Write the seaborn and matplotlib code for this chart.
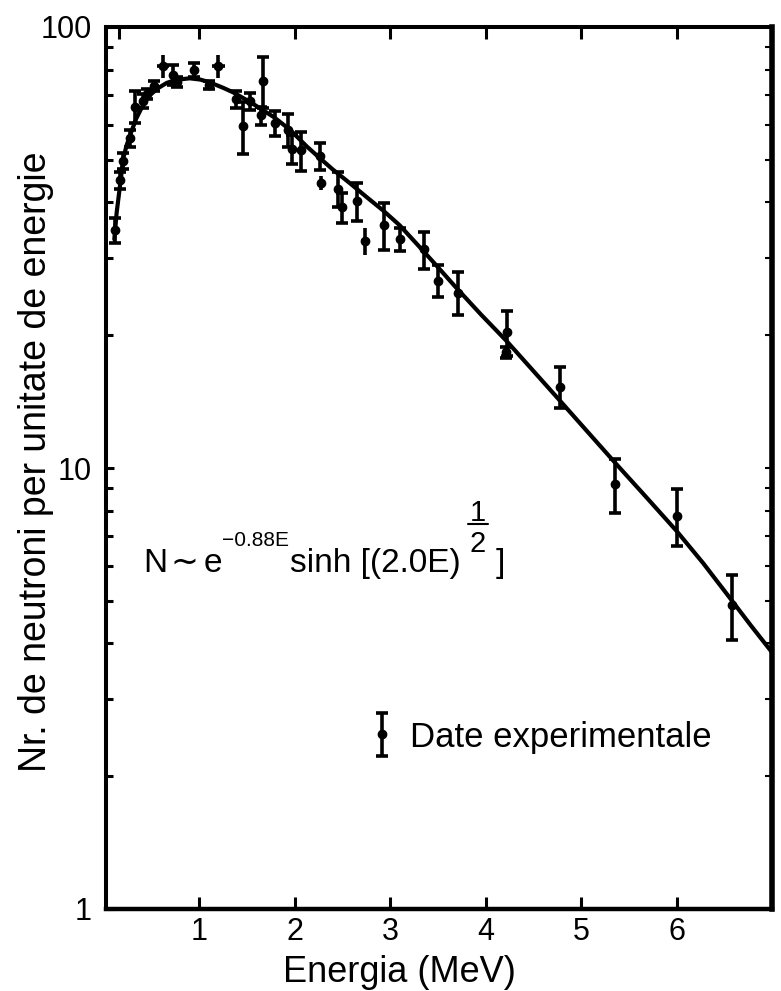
import matplotlib
matplotlib.use("Agg")
import matplotlib.pyplot as plt
import seaborn as sns
import numpy as np
import pandas as pd
from matplotlib.ticker import LogLocator, NullFormatter, FixedLocator
from matplotlib.container import ErrorbarContainer
from matplotlib.legend_handler import HandlerErrorbar
from matplotlib.lines import Line2D

# ---- data ----
curve_E = [0.11, 0.135, 0.18, 0.20, 0.24, 0.29, 0.34, 0.41, 0.48, 0.57, 0.66, 0.76,
           0.90, 1.01, 1.11, 1.25, 1.36, 1.46, 1.57, 1.78, 1.95, 2.13, 2.26, 2.40,
           2.58, 2.75, 2.93, 3.10, 3.28, 3.49, 3.68, 3.95, 4.22, 4.50, 4.78, 5.08,
           5.37, 5.68, 6.00, 6.28, 6.56, 6.78, 7.00]
curve_N = [33.0, 38.0, 45.5, 50.0, 54.0, 58.0, 62.0, 66.5, 70.0, 72.7, 74.7, 75.9,
           76.5, 76.0, 74.9, 72.8, 71.0, 69.0, 66.8, 62.5, 58.5, 53.5, 50.5, 47.5,
           44.2, 41.2, 38.3, 35.5, 32.2, 28.7, 25.8, 22.3, 19.4, 16.6, 14.2, 12.0,
           10.2, 8.6, 7.2, 6.08, 5.07, 4.39, 3.82]

pt_E = [0.12, 0.17, 0.20, 0.27, 0.33, 0.41, 0.45, 0.53, 0.73, 0.77, 0.94, 1.10,
        1.39, 1.46, 1.53, 1.67, 1.65, 1.79, 1.93, 1.97, 2.07, 2.26, 2.45, 2.50,
        2.65, 2.94, 3.10, 3.35, 3.50, 3.71, 4.22, 4.21, 4.78, 5.36, 6.00, 6.58]
pt_N = [34.6, 45.0, 49.7, 56.0, 66.0, 68.0, 70.5, 73.5, 78.0, 75.0, 80.0, 74.0,
        68.5, 59.6, 68.0, 75.5, 63.0, 60.5, 58.5, 53.0, 52.5, 51.0, 43.0, 39.0,
        40.3, 35.5, 33.0, 31.3, 26.6, 25.0, 20.3, 18.3, 15.3, 9.2, 7.8, 4.9]
pt_err = [2.3, 2.0, 2.0, 2.5, 5.5, 2.5, 2.0, 2.0, 4.0, 2.0, 3.0, 1.5,
          3.0, 8.0, 3.0, 10.0, 3.0, 4.0, 5.0, 4.0, 5.3, 3.5, 4.0, 3.0,
          3.9, 4.3, 2.0, 3.0, 2.2, 2.8, 2.4, 0.5, 1.65, 1.3, 1.15, 0.83]

cross_E = [0.62, 1.20, 2.28, 2.74]
cross_N = [81.5, 81.5, 44.3, 32.7]
cross_yerr = [5.0, 5.0, 1.7, 2.3]
cross_xerr = [0.06, 0.07, 0.04, 0.05]

x_ticks = [1, 2, 3, 4, 5, 6]
top_ticks = [0.16, 1, 2, 3, 4, 5, 6]
y_ticks = [1, 10, 100]
y_ticklabels = ["1", "10", "100"]

W, H = 781, 991

sns.set_theme(style="white")
plt.rcParams['font.family'] = ['Liberation Sans', 'DejaVu Sans']
for k in ['text.color', 'axes.labelcolor', 'xtick.color', 'ytick.color', 'axes.edgecolor']:
    plt.rcParams[k] = 'black'

fig = plt.figure(figsize=(W / 100, H / 100), dpi=100)
ax = fig.add_axes([106 / W, 1 - 909 / H, (772 - 106) / W, (909 - 27) / H])
ax.set_yscale('log')

curve_df = pd.DataFrame({"E": curve_E, "N": curve_N})
sns.lineplot(data=curve_df, x="E", y="N", ax=ax, color="black", linewidth=3,
             sort=False, estimator=None)

eb = ax.errorbar(pt_E, pt_N, yerr=pt_err, fmt='o', color='black', ms=6,
                 elinewidth=2.6, capsize=4, capthick=2.6, label='Date experimentale')
ax.errorbar(cross_E, cross_N, xerr=cross_xerr, yerr=cross_yerr, fmt='o', color='black',
            ms=6, elinewidth=2.6, capsize=0)

ax.set_xlim(0.023, 7.0)
ax.set_ylim(1, 100)

ax.set_xticks(x_ticks)
ax.set_xticklabels([str(t) for t in x_ticks])
ax.set_yticks(y_ticks)
ax.set_yticklabels(y_ticklabels)
ax.yaxis.set_minor_locator(LogLocator(base=10, subs=np.arange(2, 10)))
ax.yaxis.set_minor_formatter(NullFormatter())
ax.xaxis.set_minor_locator(FixedLocator([]))

ax.tick_params(axis='x', which='major', direction='in', length=8.6, width=2.2,
               labelsize=22, pad=6, colors='black', bottom=True)
ax.tick_params(axis='y', which='major', direction='in', length=6, width=2.2,
               labelsize=22, pad=10, colors='black', left=True)
ax.tick_params(axis='y', which='minor', direction='in', length=5, width=2.2, left=True)

for side, lw in [('left', 2.9), ('top', 2.9), ('bottom', 3.2), ('right', 4.0)]:
    ax.spines[side].set_visible(True)
    ax.spines[side].set_color('black')
    ax.spines[side].set_linewidth(lw)

# top ticks
axt = ax.twiny()
axt.set_xlim(ax.get_xlim())
axt.set_xticks(top_ticks)
axt.tick_params(axis='x', direction='in', length=8.6, width=2.2, labeltop=False, top=True)
for s in axt.spines.values():
    s.set_visible(False)
# right ticks
axr = ax.twinx()
axr.set_yscale('log')
axr.set_ylim(1, 100)
axr.yaxis.set_minor_locator(LogLocator(base=10, subs=np.arange(2, 10)))
axr.yaxis.set_minor_formatter(NullFormatter())
axr.tick_params(axis='y', which='both', direction='in', length=5, width=1.5,
                labelright=False, right=True)
for s in axr.spines.values():
    s.set_visible(False)
axt.grid(False); axr.grid(False); ax.grid(False)

ax.set_xlabel("Energia (MeV)", fontsize=26, color='black')
ax.set_ylabel("Nr. de neutroni per unitate de energie", fontsize=27, color='black')
ax.xaxis.set_label_coords(0.441, -0.052)
ax.yaxis.set_label_coords(-0.078, 0.507)

leg = ax.legend(handles=[eb], labels=['Date experimentale'], loc='center left',
                bbox_to_anchor=(0.404, 0.195), frameon=False, fontsize=25,
                handlelength=0.4, handletextpad=0.6, borderpad=0, borderaxespad=0,
                handler_map={ErrorbarContainer: HandlerErrorbar(yerr_size=0.62)})
for t in leg.get_texts():
    t.set_color('black')


def fp(x, y):
    return x / W, 1 - y / H


fig.text(*fp(143, 572), "N", fontsize=24, va='baseline', ha='left')
fig.text(*fp(170, 572), "\u223c", fontsize=24, va='baseline', ha='left',
         family=['DejaVu Sans'])
fig.text(*fp(204, 572), "e", fontsize=24, va='baseline', ha='left')
fig.text(*fp(222, 546), "\u22120.88E", fontsize=15, va='baseline', ha='left',
         family=['Liberation Sans', 'DejaVu Sans'])
fig.text(*fp(290, 572), "sinh [(2.0E)", fontsize=24, va='baseline', ha='left')
fig.text(*fp(478, 521), "1", fontsize=21, va='baseline', ha='center')
fig.add_artist(Line2D([468 / W, 488 / W], [1 - 524 / H, 1 - 524 / H],
                      color='black', lw=1.5, transform=fig.transFigure))
fig.text(*fp(478, 552), "2", fontsize=21, va='baseline', ha='center')
fig.text(*fp(496, 572), "]", fontsize=24, va='baseline', ha='left')

fig.savefig("out.png", dpi=100, facecolor='white')
